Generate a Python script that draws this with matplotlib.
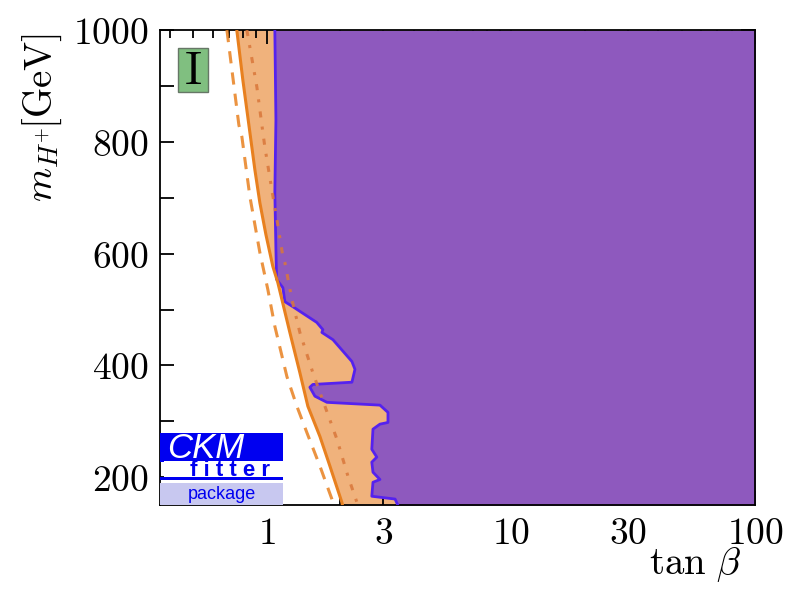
import matplotlib
matplotlib.use('Agg')
import matplotlib.pyplot as plt
from matplotlib.patches import Rectangle
from matplotlib.ticker import FixedLocator, NullFormatter

plt.rcParams['mathtext.fontset'] = 'cm'
plt.rcParams['font.family'] = ['DejaVu Serif']

# allowed region (purple) boundary: tan beta vs m_H+
purple_x = [1.078, 1.089, 1.078, 1.089, 1.096, 1.163, 1.185, 1.278, 1.60, 1.696, 1.68,
            1.865, 2.23, 2.295, 2.23, 1.543, 1.50, 1.573, 1.762, 2.905, 3.133, 3.133,
            2.905, 2.72, 2.69, 2.82, 2.69, 2.72, 2.905, 2.72, 2.69, 3.35, 3.44]
purple_y = [1000, 839, 709, 607, 554, 539, 514, 505, 477, 464, 459,
            446, 407, 393, 370, 366, 361, 345, 334, 329, 316, 298,
            295, 286, 250, 236, 227, 209, 196, 191, 166, 161, 150]

# orange band, solid edge
solid_x = [0.753, 0.797, 0.844, 0.893, 0.936, 0.991, 1.058, 1.109, 1.242, 1.365,
           1.472, 1.649, 1.812, 2.029, 2.04]
solid_y = [1000, 911, 830, 750, 691, 634, 577, 548, 459, 387,
           327, 273, 220, 155, 150]

dash_x = [0.686, 0.719, 0.768, 0.790, 0.852, 0.936, 1.009, 1.078, 1.208, 1.327,
          1.458, 1.649, 1.846, 1.88]
dash_y = [1000, 929, 830, 809, 702, 602, 536, 470, 380, 327,
          280, 220, 161, 150]

dashdot_x = [0.828, 0.910, 0.954, 0.981, 1.048, 1.099, 1.163, 1.185, 1.266, 1.365,
             1.543, 1.729, 1.936, 2.148, 2.338, 2.36]
dashdot_y = [1000, 898, 830, 791, 714, 661, 595, 584, 518, 459,
             387, 327, 268, 202, 155, 150]

x_ticks = [1, 3, 10, 30, 100]
x_minor = [0.4, 0.5, 0.6, 0.7, 0.8, 0.9, 2, 4, 5, 6, 7, 8, 9,
           20, 40, 50, 60, 70, 80, 90]
y_ticks = [200, 400, 600, 800, 1000]
y_minor = [300, 500, 700, 900]

XMIN, XMAX = 0.365, 100
YMIN, YMAX = 150, 1000

orange_fill = '#F0B27C'
orange_line = '#E8801F'
purple = '#8E59BE'
blue = '#5522EE'

fig = plt.figure(figsize=(8, 6), dpi=100)
ax = fig.add_axes([0.2, 0.158, 0.744, 0.792])
ax.set_xscale('log')

ax.fill_betweenx(solid_y, solid_x, XMAX, color=orange_fill, lw=0, zorder=1)
ax.fill_betweenx(purple_y, purple_x, XMAX, color=purple, lw=0, zorder=2)
ax.plot(purple_x, purple_y, color=blue, lw=2, zorder=3)
ax.plot(solid_x, solid_y, color=orange_line, lw=2.2, zorder=4)
ax.plot(dash_x, dash_y, color=orange_line, lw=2.2, ls=(0, (4, 3)), alpha=0.85, zorder=4)
ax.plot(dashdot_x, dashdot_y, color='#D9773A', lw=2.2, ls=(0, (2, 3, 1, 3)), alpha=0.85, zorder=4)

ax.set_xlim(XMIN, XMAX)
ax.set_ylim(YMIN, YMAX)

ax.xaxis.set_major_locator(FixedLocator(x_ticks))
ax.xaxis.set_minor_locator(FixedLocator(x_minor))
ax.xaxis.set_minor_formatter(NullFormatter())
ax.set_xticklabels(['$%d$' % v for v in x_ticks])
ax.yaxis.set_major_locator(FixedLocator(y_ticks))
ax.yaxis.set_minor_locator(FixedLocator(y_minor))
ax.set_yticklabels(['$%d$' % v for v in y_ticks])

ax.tick_params(which='both', direction='in', top=True, right=True, labelsize=27, width=1.3)
ax.tick_params(which='major', length=10, pad=8)
ax.tick_params(axis='y', which='minor', length=10)
ax.tick_params(axis='x', which='minor', length=6)
for s in ax.spines.values():
    s.set_linewidth(1.3)

ax.set_xlabel(r'$\tan\,\beta$', fontsize=28, ha='center', va='center')
ax.xaxis.set_label_coords(0.9, -0.125)
ax.set_ylabel(r'$m_{H^{+}}\![\mathrm{GeV}]$', fontsize=28, va='center', ha='center')
ax.yaxis.set_label_coords(-0.198, 0.815)

# model label
ax.add_patch(Rectangle((0.031, 0.869), 0.05, 0.093, transform=ax.transAxes,
                       facecolor='#80BF80', edgecolor='#667766', lw=1, zorder=6))
ax.text(0.056, 0.913, r'$\mathrm{I}$', transform=ax.transAxes, fontsize=34,
        ha='center', va='center', zorder=7)

# CKMfitter logo
ax.add_patch(Rectangle((0, 0.0905), 0.207, 0.061, transform=ax.transAxes,
                       facecolor='#0000F0', lw=0, zorder=6))
ax.add_patch(Rectangle((0.007, 0.058), 0.2, 0.034, transform=ax.transAxes,
                       facecolor='white', edgecolor='#0000F0', lw=0, zorder=6))
ax.add_patch(Rectangle((0, 0.054), 0.207, 0.006, transform=ax.transAxes,
                       facecolor='#0000F0', lw=0, zorder=6))
ax.add_patch(Rectangle((0, 0.0), 0.207, 0.047, transform=ax.transAxes,
                       facecolor='#C8C8F0', lw=0, zorder=6))
ax.text(0.012, 0.099, 'CKM', transform=ax.transAxes, fontsize=25, color='white',
        family='Liberation Sans', style='italic', ha='left', va='baseline', zorder=7)
ax.text(0.185, 0.061, 'f i t t e r', transform=ax.transAxes, fontsize=16, color='#0000F0',
        family='Liberation Sans', weight='bold', ha='right', va='baseline', zorder=7)
ax.text(0.104, 0.022, 'package', transform=ax.transAxes, fontsize=13, color='#0000F0',
        family='Liberation Sans', ha='center', va='center', zorder=7)

fig.savefig('out.png', dpi=100)
